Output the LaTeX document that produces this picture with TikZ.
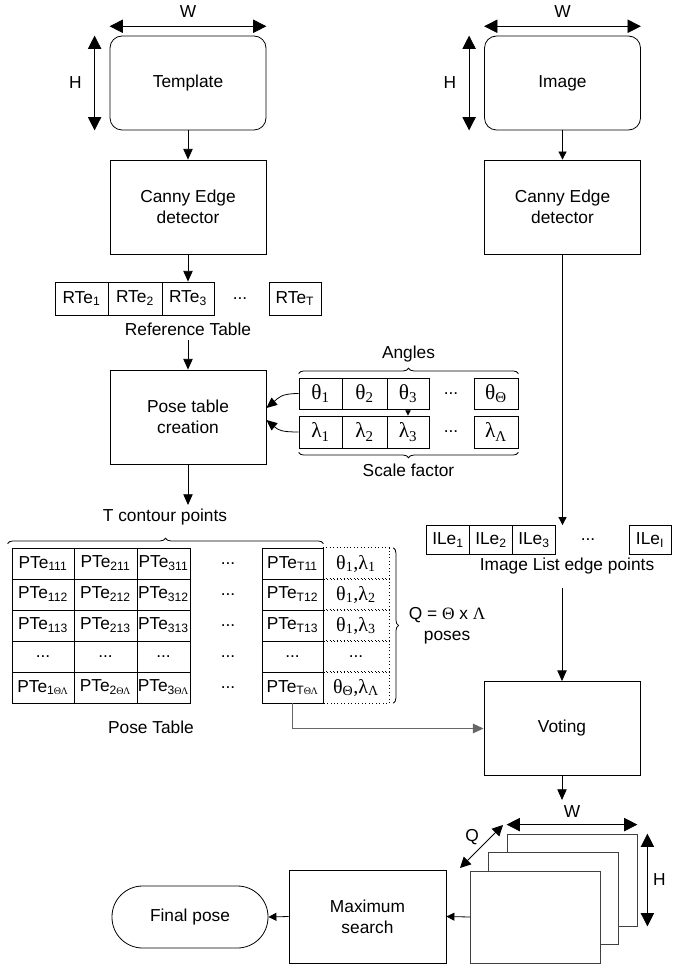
\documentclass[tikz,border=0pt]{standalone}
\usepackage{fontspec}
\setmainfont{Liberation Sans}
\newfontfamily\grk{Liberation Serif}
\usetikzlibrary{arrows.meta,positioning,calc,decorations.pathreplacing}
\newcommand{\sbs}[1]{\textsubscript{#1}}
\newcommand{\gk}{\grk\fontsize{16}{18}\selectfont}
\newcommand{\gkp}{\grk\fontsize{15}{17}\selectfont}
\newcommand{\tl}[2]{θ\sbs{#1},λ\sbs{#2}}
\newcommand{\TL}{{\grk\fontsize{7.5}{8}\selectfont ΘΛ}}
\tikzset{
  blk/.style={draw, line width=0.6pt, minimum width=117pt, minimum height=70.5pt, align=center},
  rblk/.style={blk, rounded corners=9pt},
  cell/.style={draw, line width=0.6pt, inner sep=0pt, minimum height=23.25pt},
  dcell/.style={inner sep=0pt, minimum width=49.5pt, minimum height=23.25pt, font=\gkp},
  frm/.style={draw=black!75, fill=white, line width=0.6pt, minimum width=97.5pt, minimum height=69pt},
  arr/.style={-{Triangle[length=8pt,width=7pt]}, line width=0.6pt},
  sarr/.style={-{Triangle[length=6pt,width=6pt]}, line width=0.6pt},
  dimarr/.style={{Triangle[length=10pt,width=10pt]}-{Triangle[length=10pt,width=10pt]}, line width=0.6pt},
  qarr/.style={{Triangle[length=8pt,width=8pt]}-{Triangle[length=8pt,width=8pt]}, line width=0.6pt},
  gry/.style={-{Triangle[length=8pt,width=7pt]}, draw=black!60, line width=1.3pt},
  brc/.style={decorate, decoration={brace, amplitude=4pt}, line width=0.6pt},
}

\begin{document}
\begin{tikzpicture}[x=0.75pt, y=-0.75pt, font=\fontsize{13}{15.5}\selectfont]
\useasboundingbox (0,0) rectangle (672,969);

% inputs
\node[rblk] (tmpl) at (188,83) {Template};
\node[rblk] (img) at (562.5,83) {Image};
\draw[dimarr] ([yshift=7pt]tmpl.north west) -- ([yshift=7pt]tmpl.north east) node[midway, above=3pt] (tw) {W};
\draw[dimarr] ([xshift=-11.25pt]tmpl.north west) -- ([xshift=-11.25pt]tmpl.south west) node[midway, left=6pt] (th) {H};
\draw[dimarr] ([yshift=7pt]img.north west) -- ([yshift=7pt]img.north east) node[midway, above=3pt] (iw) {W};
\draw[dimarr] ([xshift=-11.25pt]img.north west) -- ([xshift=-11.25pt]img.south west) node[midway, left=6pt] (ih) {H};

\node[blk] (canA) at (188,207) {Canny Edge\\detector};
\node[blk] (canB) at (562.5,207) {Canny Edge\\detector};
\draw[arr] (tmpl) -- (canA);
\draw[sarr] (img) -- (canB);

% reference table
\foreach \i/\xx/\w in {1/81.5/53, 2/135/54, 3/188/52}
  \node[cell, minimum width=\w*0.75pt, minimum height=24.75pt] (rt\i) at (\xx,298.5) {RTe\sbs{\i}};
\node (rtd) at (240,298.5) {...};
\node[cell, minimum width=39pt, minimum height=24.75pt] (rtT) at (295,298.5) {RTe\sbs{T}};
\node (reflbl) at (188,329) {Reference Table};
\draw[arr] (canA) -- (rt3);

\node[blk] (pose) at (188,417) {Pose table\\creation};
\draw[arr] (reflbl) -- (pose);

% angles and scale factors
\foreach \i/\xx/\w in {1/320.5/43, 2/364.5/45, 3/408/42}{
  \node[cell, minimum width=\w*0.75pt, font=\gk] (th\i) at (\xx,393.5) {θ\sbs{\i}};
  \node[cell, minimum width=\w*0.75pt, minimum height=24pt, font=\gk] (la\i) at (\xx,432) {λ\sbs{\i}};
}
\node (thd) at (451,393.5) {...};
\node (lad) at (451,432) {...};
\node[cell, minimum width=33pt, font=\gk] (thG) at (496,393.5) {θ\sbs{Θ}};
\node[cell, minimum width=33pt, minimum height=24pt, font=\gk] (laL) at (496,432) {λ\sbs{Λ}};
\draw[-{Triangle[length=4pt,width=4pt]}, line width=0.6pt] (th3) -- (la3);
\draw[brc] ([yshift=3pt]th1.north west) -- ([yshift=3pt]thG.north east) node[midway, above=5pt] (angl) {Angles};
\draw[brc] ([yshift=-3pt]laL.south east) -- ([yshift=-3pt]la1.south west) node[midway, below=5pt] (scl) {Scale factor};
\draw[arr] (th1.west) .. controls +(-18,0) and +(12,-10) .. ($(pose.east)+(0,-9)$);
\draw[arr] (la1.west) .. controls +(-18,0) and +(12,10) .. ($(pose.east)+(0,3)$);

% pose table
\coordinate (ptin) at (188,505);
\draw[arr] (pose) -- (ptin);
\node (tcp) at (165,517) {T contour points};
\foreach \r/\yy in {1/563.5, 2/594.5, 3/625.5}{
  \foreach \c/\xx/\w in {1/43/62, 2/105.5/63, 3/163.5/53, T/292.5/61}
    \node[cell, minimum width=\w*0.75pt] (p\c\r) at (\xx,\yy) {PTe\sbs{\c1\r}};
  \node (pd\r) at (228,\yy) {...};
  \node[dcell] (dd\r) at (356,\yy) {\tl{1}{\r}};
}
\foreach \c/\xx/\w in {1/43/62, 2/105.5/63, 3/163.5/53, T/292.5/61}{
  \node[cell, minimum width=\w*0.75pt] (p\c4) at (\xx,656.5) {...};
  \node[cell, minimum width=\w*0.75pt] (p\c5) at (\xx,687.5) {PTe\sbs{\c\TL}};
}
\node (pd4) at (228,656.5) {...};
\node (pd5) at (228,687.5) {...};
\node[dcell, font=\fontsize{13}{15.5}\selectfont] (dd4) at (356,656.5) {...};
\node[dcell] (dd5) at (356,687.5) {\tl{Θ}{Λ}};
\foreach \r in {1,...,5}
  \draw[dotted, line width=0.6pt] (dd\r.north west) -- (dd\r.north east) -- (dd\r.south east) -- (dd\r.south west);
\draw[brc] ([xshift=-3pt,yshift=3pt]p11.north west) -- ([yshift=3pt]pT1.north east);
\draw[brc] ([xshift=3pt]dd1.north east) -- ([xshift=3pt]dd5.south east) node[midway, right=8pt, align=center] (qlbl) {Q = {\grk Θ} x {\grk Λ}\\poses};
\node (ptlbl) at (151,727) {Pose Table};

% image edge list
\foreach \i/\xx in {1/448, 2/491, 3/534}
  \node[cell, minimum width=32.25pt, minimum height=21.75pt] (il\i) at (\xx,540) {ILe\sbs{\i}};
\node (ild) at (588,540) {...};
\node[cell, minimum width=31.5pt, minimum height=21.75pt] (ilI) at (650,540) {ILe\sbs{I}};
\node (illbl) at (567,566) {Image List edge points};
\draw[sarr] (canB.south) -- (canB.south |- il3.north);

% voting and search
\node[blk] (vote) at (562,728.5) {Voting};
\coordinate (ilout) at (562,588);
\draw[arr] (ilout) -- (vote);
\draw[gry] (pT5.south) |- (vote.west);
\coordinate (vout) at (562,800);
\draw[arr] (vote) -- (vout);

\node[frm] (frC) at (572,880) {};
\node[frm] (frB) at (553.5,898.5) {};
\node[frm] (frA) at (535.5,917) {};
\draw[dimarr] ([yshift=6.75pt]frC.north west) -- ([yshift=6.75pt]frC.north east) node[midway, above=2pt] (fw) {W};
\draw[dimarr] ([xshift=7.5pt]frC.north east) -- ([xshift=7.5pt]frC.south east) node[midway, right=3pt, inner sep=1pt] (fh) {H};
\coordinate (qa) at (460,868);
\coordinate (qb) at (503,825);
\draw[qarr] (qa) -- (qb);
\node (ql) at (472,837) {Q};

\node[blk, minimum width=117.75pt, minimum height=69.75pt] (maxs) at (367.5,916.5) {Maximum\\search};
\node[draw, line width=0.6pt, rounded corners=23pt, minimum width=117pt, minimum height=46.5pt] (fin) at (190,917) {Final pose};
\draw[sarr] (frA.west) -- (maxs.east);
\draw[sarr] (maxs.west) -- (fin.east);
\end{tikzpicture}
\end{document}
